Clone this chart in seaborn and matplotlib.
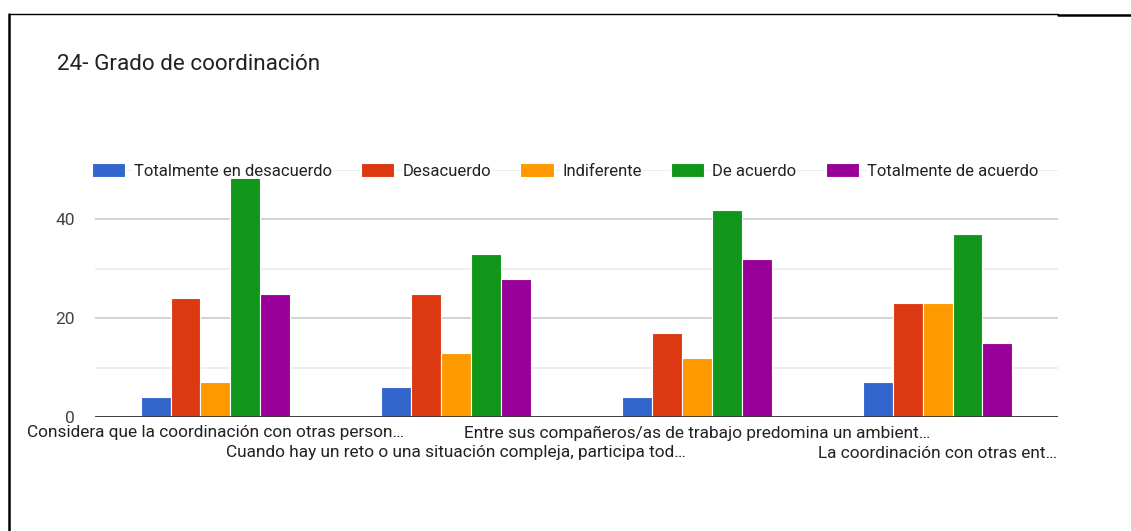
import matplotlib
matplotlib.use("Agg")
import matplotlib.pyplot as plt
import seaborn as sns
import pandas as pd
from matplotlib.lines import Line2D

categories = [
    "Considera que la coordinación con otras person…",
    "Cuando hay un reto o una situación compleja, participa tod…",
    "Entre sus compañeros/as de trabajo predomina un ambient…",
    "La coordinación con otras ent…",
]
series = ["Totalmente en desacuerdo", "Desacuerdo", "Indiferente",
          "De acuerdo", "Totalmente de acuerdo"]
totalmente_desacuerdo = [4, 6, 4, 7]
desacuerdo = [24, 25, 17, 23]
indiferente = [7, 13, 12, 23]
de_acuerdo = [49, 33, 42, 37]
totalmente_acuerdo = [25, 28, 32, 15]
colors = ["#3366cc", "#dc3912", "#ff9900", "#109618", "#990099"]
title = "24- Grado de coordinación"

values = [totalmente_desacuerdo, desacuerdo, indiferente, de_acuerdo, totalmente_acuerdo]
rows = []
for s, vals in zip(series, values):
    for c, v in zip(categories, vals):
        rows.append({"cat": c, "serie": s, "val": v})
df = pd.DataFrame(rows)

sns.set_theme(style="white")
plt.rcParams["font.family"] = ["Roboto", "DejaVu Sans"]

fig = plt.figure(figsize=(11.31, 5.31), dpi=100)
ax = fig.add_axes([95 / 1131, 114 / 531, 963 / 1131, 247 / 531])

sns.barplot(data=df, x="cat", y="val", hue="serie", order=categories,
            hue_order=series, palette=colors, width=0.62, gap=0,
            edgecolor="white", linewidth=0.8, saturation=1, ax=ax, zorder=3)

ax.set_xlim(-0.5, 3.5)
ax.set_ylim(0, 50)
ax.set_yticks([0, 20, 40])
ax.set_yticks([10, 30, 50], minor=True)
ax.grid(axis="y", which="major", color="#cccccc", linewidth=1.2, zorder=0)
ax.grid(axis="y", which="minor", color="#ebebeb", linewidth=1.2, zorder=0)
ax.grid(axis="x", visible=False)
for sp in ax.spines.values():
    sp.set_visible(False)
ax.axhline(0, color="#333333", linewidth=2, zorder=4)
ax.set_xlabel("")
ax.set_ylabel("")
ax.tick_params(axis="y", which="both", length=0, labelsize=12.5, labelcolor="#444444", pad=14.4)
ax.tick_params(axis="x", length=0)

ax.set_xticks(range(len(categories)))
ax.set_xticklabels([])
for i, c in enumerate(categories):
    yoff = -16 if i % 2 == 0 else -36
    ax.annotate(c, xy=(i, 0), xycoords=("data", "data"), xytext=(0, yoff),
                textcoords="offset pixels", ha="center", va="center",
                fontsize=12.4, color="#222222")

leg = ax.legend(loc="lower left", bbox_to_anchor=(-0.003, 0.963), ncol=5,
                frameon=False, fontsize=12, handlelength=2.0, handleheight=0.9,
                handletextpad=0.5, columnspacing=1.75, borderaxespad=0,
                borderpad=0)
for t in leg.get_texts():
    t.set_color("#222222")
    t.set_bbox(dict(facecolor="white", edgecolor="none", pad=0.3))

fig.text(57 / 1131, 1 - 64 / 531, title, fontsize=16.2, color="#222222",
         ha="left", va="center")

# screenshot frame lines
fig.add_artist(Line2D([9 / 1131, 9 / 1131], [0, 1 - 14 / 531], color="black", linewidth=1.8, transform=fig.transFigure))
fig.add_artist(Line2D([9 / 1131, 1058 / 1131], [1 - 14 / 531, 1 - 14 / 531], color="black", linewidth=1.0, transform=fig.transFigure))
fig.add_artist(Line2D([1058 / 1131, 1], [1 - 14.5 / 531, 1 - 14.5 / 531], color="black", linewidth=1.8, transform=fig.transFigure))

fig.savefig("out.png", dpi=100, facecolor="white")
